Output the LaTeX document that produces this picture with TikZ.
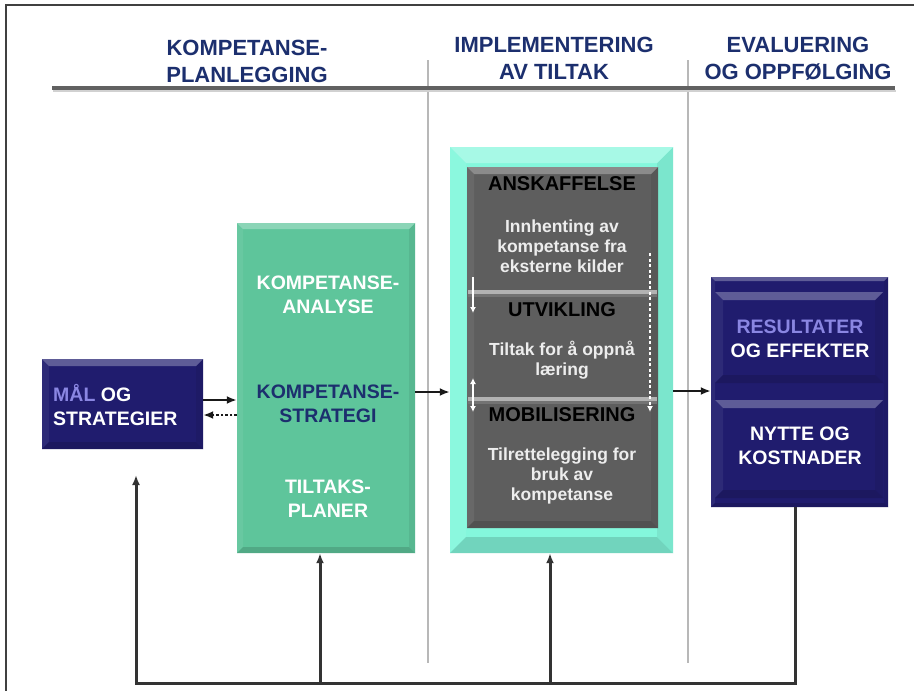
\documentclass[tikz,border=0pt]{standalone}
\usepackage{fontspec}
\setmainfont{Liberation Sans}
\usetikzlibrary{calc,arrows.meta,backgrounds}
\definecolor{navy}{HTML}{201C6E}
\definecolor{headblue}{HTML}{1C2F6E}
\definecolor{lilac}{HTML}{8A86E2}
\definecolor{mint}{HTML}{5EC59B}
\definecolor{aqua}{HTML}{84F7DC}
\definecolor{slate}{HTML}{5E5E5E}
\begin{document}
\begin{tikzpicture}[x=1pt,y=-1pt,
  % bevelled box: face colour and bevel depth
  bevel/.style 2 args={fill=#1, draw=none, inner sep=0pt, path picture={
    \fill[#1!94!white] (path picture bounding box.north west) -- ($(path picture bounding box.north west)+(#2,#2)$)
      -- ($(path picture bounding box.south west)+(#2,-#2)$) -- (path picture bounding box.south west) -- cycle;
    \fill[#1!93!black] (path picture bounding box.north east) -- ($(path picture bounding box.north east)+(-#2,#2)$)
      -- ($(path picture bounding box.south east)+(-#2,-#2)$) -- (path picture bounding box.south east) -- cycle;
    \fill[#1!86!black] (path picture bounding box.south west) -- (path picture bounding box.south east)
      -- ($(path picture bounding box.south east)+(-#2,-#2)$) -- ($(path picture bounding box.south west)+(#2,-#2)$) -- cycle;
    \fill[#1!72!white] (path picture bounding box.north west) -- (path picture bounding box.north east)
      -- ($(path picture bounding box.north east)+(-#2,#2)$) -- ($(path picture bounding box.north west)+(#2,#2)$) -- cycle;
  }},
  heading/.style={font=\fontsize{22}{27}\selectfont\bfseries, text=headblue, align=center, inner sep=0pt},
  boxtxt/.style={font=\fontsize{19.5}{24}\selectfont\bfseries, text=white, align=center, inner sep=0pt},
  stagetxt/.style={font=\fontsize{20}{24}\selectfont\bfseries, text=black, inner sep=0pt},
  smalltxt/.style={font=\fontsize{17.5}{20}\selectfont\bfseries, text=white!93!black, align=center, inner sep=0pt},
  tip/.style={-{Latex[length=10pt,width=8pt]}},
  arr/.style={line width=2.8pt, draw=black!90, tip},
  fb/.style={line width=3pt, draw=black!80},
  warr/.style={line width=1.4pt, draw=white, -{Latex[length=6pt,width=6pt]}},
]
\useasboundingbox (0,0) rectangle (914,691);
\fill[white] (0,0) rectangle (914,691);

% frame
\draw[line width=2.4pt, black!75] (6,691) -- (6,5) -- (914,5);

% column separators and heading rule
\draw[black!28, line width=1.5pt] (428,60) -- (428,663);
\draw[black!28, line width=1.5pt] (688,60) -- (688,663);
\draw[black!18, line width=2pt] (53,90.5) -- (896,90.5);
\draw[black!62, line width=3.2pt] (52,88) -- (895,88);

% headings
\node[heading] (h1) at (247,61.5) {KOMPETANSE-\\PLANLEGGING};
\node[heading] (h2) at (554,58.5) {IMPLEMENTERING\\AV TILTAK};
\node[heading] (h3) at (798,58.5) {EVALUERING\\OG OPPFØLGING};

% boxes
\node[bevel={navy}{7}, minimum width=161pt, minimum height=90pt] (goal) at (122.5,404) {};
\node[bevel={mint}{6}, minimum width=178pt, minimum height=330pt] (green) at (326,388) {};
\node[bevel={aqua}{16}, minimum width=223pt, minimum height=406pt] (impl) at (561.5,350) {};
\node[bevel={slate}{7}, minimum width=191pt, minimum height=361pt] (core) at (562.5,347.5) {};
\node[bevel={navy}{4}, minimum width=177pt, minimum height=230pt] (eval) at (799.5,392) {};
\node[bevel={navy}{8}, minimum width=168pt, minimum height=91pt] (res) at (799,337.5) {};
\node[bevel={navy}{8}, minimum width=168pt, minimum height=98pt] (nytte) at (799,449) {};

% soft drop shadows
\begin{scope}[on background layer]
  \foreach \b in {goal,green,impl,eval}{
    \fill[black!15] ($(\b.north west)+(3,3)$) rectangle ($(\b.south east)+(3,3)$);
  }
\end{scope}

% section bands inside the grey column
\fill[black!30] (468,290) rectangle (657,294);
\fill[black!55] (468,294) rectangle (657,297);
\fill[black!30] (468,397) rectangle (657,401);
\fill[black!55] (468,401) rectangle (657,404);

% texts
\node[boxtxt, align=left, anchor=west] (goaltxt) at (53,405) {{\color{lilac}MÅL} OG\\STRATEGIER};
\node[boxtxt] (ana) at (328,295) {KOMPETANSE-\\ANALYSE};
\node[boxtxt, text=headblue] (strat) at (328,403.5) {KOMPETANSE-\\STRATEGI};
\node[boxtxt] (plan) at (328,498.5) {TILTAKS-\\PLANER};

\node[stagetxt] (ansk) at (562,184) {ANSKAFFELSE};
\node[smalltxt] (anskd) at (562,246) {Innhenting av\\kompetanse fra\\eksterne kilder};
\node[stagetxt] (utv) at (562,310) {UTVIKLING};
\node[smalltxt] (utvd) at (562,360) {Tiltak for å oppnå\\læring};
\node[stagetxt] (mob) at (562,415) {MOBILISERING};
\node[smalltxt] (mobd) at (562,476) {Tilrettelegging for\\bruk av\\kompetanse};

\node[boxtxt] (restxt) at (800,339) {{\color{lilac}RESULTATER}\\OG EFFEKTER};
\node[boxtxt] (nyttetxt) at (800,445.5) {NYTTE OG\\KOSTNADER};

% flow between stages
\coordinate (s1) at ($(goal.east)+(0,-4)$);
\draw[arr] (s1) -- (s1 -| green.west);
\coordinate (d1) at ($(goal.east)+(0,11)$);
\draw[arr, dash pattern=on 2.5pt off 2pt] (d1 -| green.west) -- (d1);
\coordinate (g1) at ($(green.east)+(0,4)$);
\draw[arr] (g1) -- (g1 -| impl.west);
\coordinate (c1) at ($(impl.east)+(0,41)$);
\draw[arr] (c1) -- (c1 -| eval.west);

% movements between the implementation phases
\coordinate (ua) at (473,277);
\coordinate (ub) at (473,313);
\draw[warr] (ua) -- (ub);
\coordinate (va) at (473,378);
\coordinate (vb) at (473,412);
\draw[warr, {Latex[length=6pt,width=6pt]}-{Latex[length=6pt,width=6pt]}] (va) -- (vb);
\coordinate (wa) at (650,253);
\coordinate (wb) at (650,412);
\draw[warr, dash pattern=on 3pt off 2.5pt] (wa) -- (wb);

% feedback loop
\coordinate (fbR) at (795,683);
\coordinate (fbL) at (136,683);
\coordinate (fbTip) at (136,475);
\draw[fb, tip] (eval.south -| fbR) -- (fbR) -- (fbL) -- (fbTip);
\coordinate (br1) at (320,683);
\coordinate (br2) at (550,683);
\draw[fb, tip] (br1) -- (br1 |- green.south);
\draw[fb, tip] (br2) -- (br2 |- impl.south);
\end{tikzpicture}
\end{document}
